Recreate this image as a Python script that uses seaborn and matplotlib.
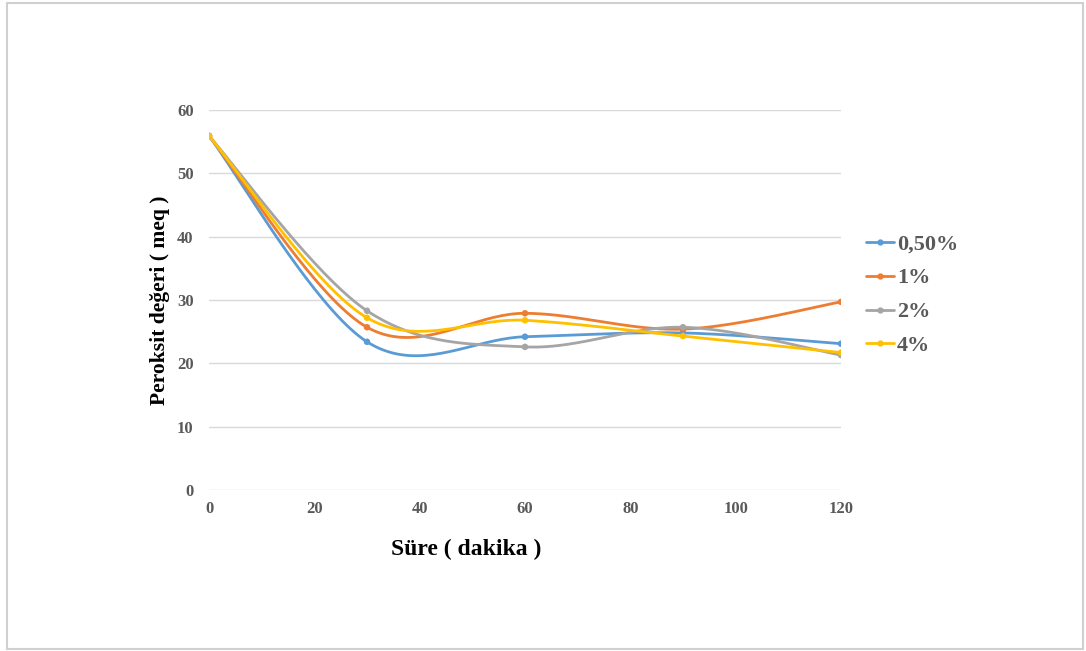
import numpy as np
import pandas as pd
import matplotlib
matplotlib.use("Agg")
import matplotlib.pyplot as plt
from matplotlib.lines import Line2D
from matplotlib.patches import Rectangle
import seaborn as sns

# Sampling times (minutes) and peroxide values (meq) per concentration
times = [0, 30, 60, 90, 120]
series_names = ["0,50%", "1%", "2%", "4%"]
v_050 = [55.9, 23.4, 24.2, 24.8, 23.1]
v_1 = [55.9, 25.7, 27.9, 25.4, 29.7]
v_2 = [55.9, 28.3, 22.6, 25.7, 21.3]
v_4 = [55.9, 27.2, 26.8, 24.3, 21.7]
colors = ["#5B9BD5", "#ED7D31", "#A5A5A5", "#FFC000"]

x_ticks = [0, 20, 40, 60, 80, 100, 120]
y_ticks = [0, 10, 20, 30, 40, 50, 60]


def smooth_curve(x, y, n=40):
    """Catmull-Rom style Bezier smoothing through every point."""
    x = np.asarray(x, float)
    y = np.asarray(y, float)
    pts = np.column_stack([x, y])
    out = []
    m = len(pts)
    for i in range(m - 1):
        p0 = pts[max(i - 1, 0)]
        p1 = pts[i]
        p2 = pts[i + 1]
        p3 = pts[min(i + 2, m - 1)]
        c1 = p1 + (p2 - p0) / 6.0
        c2 = p2 - (p3 - p1) / 6.0
        t = np.linspace(0, 1, n, endpoint=(i == m - 2))[:, None]
        seg = ((1 - t) ** 3) * p1 + 3 * ((1 - t) ** 2) * t * c1 + 3 * (1 - t) * t ** 2 * c2 + t ** 3 * p2
        out.append(seg)
    out = np.vstack(out)
    return out[:, 0], out[:, 1]


values = [v_050, v_1, v_2, v_4]
curve_rows = []
point_rows = []
for name, vals in zip(series_names, values):
    cx, cy = smooth_curve(times, vals)
    for a, b in zip(cx, cy):
        curve_rows.append({"t": a, "v": b, "seri": name})
    for a, b in zip(times, vals):
        point_rows.append({"t": a, "v": b, "seri": name})
curve_df = pd.DataFrame(curve_rows)
point_df = pd.DataFrame(point_rows)

sns.set_theme(style="white")
plt.rcParams["font.family"] = ["Liberation Serif", "DejaVu Serif"]

W, H = 1086, 651
fig = plt.figure(figsize=(W / 100, H / 100), dpi=100)
ax = fig.add_axes([209 / W, 1 - 490 / H, (841 - 209) / W, (490 - 110) / H])

palette = dict(zip(series_names, colors))
sns.lineplot(data=curve_df, x="t", y="v", hue="seri", palette=palette, sort=False,
             estimator=None, linewidth=2.0, legend=False, ax=ax, zorder=3)
sns.scatterplot(data=point_df, x="t", y="v", hue="seri", palette=palette, s=22,
                edgecolor="none", legend=False, ax=ax, zorder=4)

ax.set_xlim(0, 120)
ax.set_ylim(0, 60)
ax.set_xticks(x_ticks)
ax.set_yticks(y_ticks)
ax.yaxis.grid(True, color="#d9d9d9", linewidth=1.0)
ax.xaxis.grid(False)
for s in ax.spines.values():
    s.set_visible(False)
ax.tick_params(axis="both", length=0, labelsize=12, labelcolor="#595959")
ax.tick_params(axis="y", pad=11)
ax.tick_params(axis="x", pad=8)
for lab in ax.get_xticklabels() + ax.get_yticklabels():
    lab.set_fontweight("bold")

ax.set_xlabel("")
ax.set_ylabel("")
fig.text(466 / W, 1 - 549 / H, "Süre ( dakika )", fontsize=17, fontweight="bold",
         color="black", ha="center", va="center")
fig.text(160 / W, 1 - 300 / H, "Peroksit değeri ( meq )", fontsize=15.6, fontweight="bold",
         color="black", ha="center", va="center", rotation=90)

handles = [Line2D([0], [0], color=c, lw=2.0, marker="o", markersize=3.5) for c in colors]
leg = fig.legend(handles, series_names, loc="upper left", bbox_to_anchor=(846 / W, 1 - 214 / H),
                 frameon=False, handlelength=1.25, handletextpad=0.15, labelspacing=0.6,
                 prop={"family": "Liberation Serif", "weight": "bold", "size": 16})
for t in leg.get_texts():
    t.set_color("#595959")

# chart frame
fig.patches.append(Rectangle((7 / W, 1 - 649 / H), (1083 - 7) / W, (649 - 3) / H,
                             transform=fig.transFigure, fill=False, edgecolor="#d0d0d0", linewidth=1.5))

fig.savefig("out.png", dpi=100)
